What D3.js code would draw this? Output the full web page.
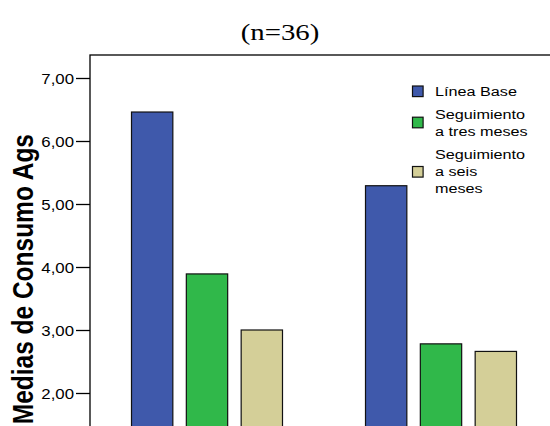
<!DOCTYPE html>
<html>
<head>
<meta charset="utf-8">
<script src="https://cdn.jsdelivr.net/npm/d3@7"></script>
<style>
  html, body { margin: 0; padding: 0; background: #fff; }
  svg { display: block; }
</style>
</head>
<body>
<div id="chart"></div>
<script>
// ---- data ----
const categories = ["Grupo 1", "Grupo 2"];
const seriesNames = ["Línea Base", "Seguimiento a tres meses", "Seguimiento a seis meses"];
const legendLines = [["Línea Base"], ["Seguimiento", "a tres meses"], ["Seguimiento", "a seis", "meses"]];
const lineaBase = [6.46, 5.29];
const tresMeses = [3.89, 2.78];
const seisMeses = [3.00, 2.66];
const tickValues = [2, 3, 4, 5, 6, 7];
const chartTitle = "(n=36)";
const yTitle = "Medias de Consumo Ags";
const colors = ["#3f59ab", "#30b84a", "#d4cf98"];

(function () {
const values = [lineaBase, tresMeses, seisMeses];
const W = 550, H = 426;
const SX = 1.2; // horizontal text stretch seen in the reference
const sans = "'Liberation Sans', Arial, sans-serif";

const svg = d3.select("#chart").append("svg").attr("width", W).attr("height", H);

const mLeft = 90, mTop = 55, mRight = 558, mBottom = 519;

const y = d3.scaleLinear().domain([0, 7.365]).range([mBottom, mTop]);
const x0 = d3.scaleBand().domain(categories).range([mLeft, mRight]);
const x1 = d3.scaleBand().domain(seriesNames).range([-75.5, 75.5]).paddingInner(0.246);

// bars
categories.forEach((c, ci) => {
  const cx = x0(c) + x0.bandwidth() / 2;
  seriesNames.forEach((s, si) => {
    const v = values[si][ci];
    svg.append("rect")
      .attr("x", cx + x1(s))
      .attr("y", y(v))
      .attr("width", x1.bandwidth())
      .attr("height", y(0) - y(v))
      .attr("fill", colors[si])
      .attr("stroke", "#111")
      .attr("stroke-width", 1.2);
  });
});

// frame
svg.append("rect")
  .attr("x", mLeft).attr("y", mTop)
  .attr("width", mRight - mLeft).attr("height", mBottom - mTop)
  .attr("fill", "none").attr("stroke", "#000").attr("stroke-width", 1.3);

// y axis
const yAxis = d3.axisLeft(y).tickValues(tickValues).tickSize(14)
  .tickFormat(d => d3.format(".2f")(d).replace(".", ","));
const gy = svg.append("g").attr("transform", `translate(${mLeft},0)`).call(yAxis);
gy.select(".domain").remove();
gy.selectAll(".tick line").attr("stroke", "#000").attr("stroke-width", 1.3);
gy.selectAll(".tick text")
  .attr("x", 0).attr("dy", "0.36em")
  .attr("transform", `translate(-16,0) scale(${SX},1)`)
  .attr("font-family", sans)
  .attr("font-size", 14).attr("fill", "#000");

// title
svg.append("text")
  .attr("transform", `translate(280,40) scale(${SX},1)`)
  .attr("text-anchor", "middle")
  .attr("font-family", "'Liberation Serif', 'Times New Roman', serif")
  .attr("font-size", 24)
  .text(chartTitle);

// y title
svg.append("text")
  .attr("transform", `translate(33,134) scale(${SX},1) rotate(-90)`)
  .attr("text-anchor", "end")
  .attr("font-family", sans)
  .attr("font-weight", "bold")
  .attr("font-size", 24.5)
  .text(yTitle);

// legend
const legendCenters = [91.3, 122.5, 171.8];
const lineH = 17;
seriesNames.forEach((s, i) => {
  const cy = legendCenters[i];
  svg.append("rect")
    .attr("x", 412.5).attr("y", cy - 5.3)
    .attr("width", 10.6).attr("height", 10.6)
    .attr("fill", colors[i]).attr("stroke", "#111").attr("stroke-width", 1.2);
  const lines = legendLines[i];
  const first = cy + 4.5 - (lines.length - 1) * lineH / 2;
  lines.forEach((t, j) => {
    svg.append("text")
      .attr("transform", `translate(435,${first + j * lineH}) scale(${SX},1)`)
      .attr("font-family", sans)
      .attr("font-size", 13.5)
      .text(t);
  });
});
})();
</script>
</body>
</html>
